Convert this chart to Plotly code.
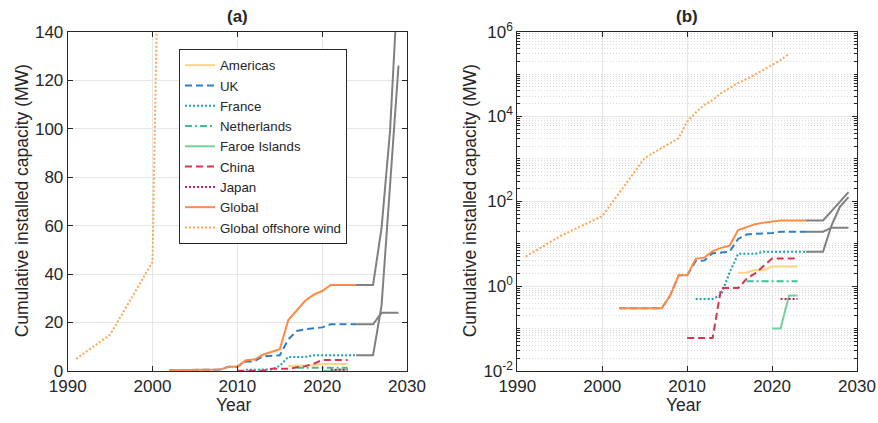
import plotly.graph_objects as go

# ---------------- data ----------------
americas_years = [2016, 2017, 2018, 2019, 2020, 2021, 2022, 2023]
americas_vals = [2.07, 2.1, 2.4, 2.4, 2.9, 2.9, 2.9, 2.9]

uk_years = [2002, 2003, 2004, 2005, 2006, 2007, 2008, 2009, 2010, 2011, 2012, 2013,
            2014, 2015, 2016, 2017, 2018, 2019, 2020, 2021, 2022, 2023, 2024]
uk_vals = [0.3, 0.3, 0.3, 0.3, 0.3, 0.3, 0.6, 1.8, 1.8, 3.9, 4.0, 6.0,
           6.2, 6.5, 13, 16.5, 17.2, 17.5, 18, 19.3, 19.3, 19.3, 19.3]

france_years = [2011, 2012, 2013, 2014, 2015, 2016, 2017, 2018, 2019, 2020, 2021, 2022, 2023, 2024]
france_vals = [0.5, 0.5, 0.5, 0.63, 2.1, 5.8, 5.8, 5.8, 6.5, 6.5, 6.5, 6.5, 6.5, 6.5]

netherlands_years = [2017, 2018, 2019, 2020, 2021, 2022, 2023]
netherlands_vals = [1.3, 1.3, 1.3, 1.3, 1.3, 1.3, 1.3]

faroe_years = [2020, 2021, 2022, 2023]
faroe_vals = [0.1, 0.1, 0.6, 0.6]

china_years = [2010, 2011, 2012, 2013, 2014, 2015, 2016, 2017, 2018, 2019, 2020, 2021, 2022, 2023]
china_vals = [0.06, 0.06, 0.06, 0.06, 0.9, 0.9, 0.9, 1.5, 2.0, 3.0, 4.5, 4.5, 4.5, 4.5]

japan_years = [2021, 2022, 2023]
japan_vals = [0.5, 0.5, 0.5]

global_years = [2002, 2003, 2004, 2005, 2006, 2007, 2008, 2009, 2010, 2011, 2012, 2013,
                2014, 2015, 2016, 2017, 2018, 2019, 2020, 2021, 2022, 2023, 2024]
global_vals = [0.3, 0.3, 0.3, 0.3, 0.3, 0.3, 0.6, 1.8, 1.8, 4.4, 4.7, 6.7,
               8.0, 9.0, 21, 25, 29, 31.5, 33, 35.5, 35.5, 35.5, 35.5]

offshore_years = [1991, 1995, 2000, 2005, 2009, 2010, 2011, 2012, 2013, 2014, 2015,
                  2016, 2017, 2018, 2019, 2020, 2021, 2022]
offshore_vals = [5, 15, 45, 1050, 3100, 7600, 12400, 18800, 24500, 35500, 47000,
                 62000, 76000, 96000, 126000, 164000, 215000, 300000]

proj_years = [2024, 2025, 2026, 2027, 2028, 2029]
proj_global_vals = [35.5, 35.5, 35.5, 59, 99, 165]
proj_uk_vals = [19.3, 19.3, 19.3, 24, 24, 24]
proj_france_vals = [6.5, 6.5, 6.5, 27, 75, 126]

x_ticks = [1990, 2000, 2010, 2020, 2030]
y_ticks_lin = [0, 20, 40, 60, 80, 100, 120, 140]
y_ticks_log = [1e-2, 1, 1e2, 1e4, 1e6]
y_ticktext_log = ["10<sup>-2</sup>", "10<sup>0</sup>", "10<sup>2</sup>", "10<sup>4</sup>", "10<sup>6</sup>"]

DASH = "7px,4px"
DOT = "2px,2px"
DASHDOT = "7px,3px,2px,3px"
series = [
    ("Americas", americas_years, americas_vals, "#FFD580", "solid"),
    ("UK", uk_years, uk_vals, "#2F7FC1", DASH),
    ("France", france_years, france_vals, "#1BA3B5", DOT),
    ("Netherlands", netherlands_years, netherlands_vals, "#3DBE98", DASHDOT),
    ("Faroe Islands", faroe_years, faroe_vals, "#72D09B", "solid"),
    ("China", china_years, china_vals, "#D8364C", DASH),
    ("Japan", japan_years, japan_vals, "#C21E5C", DOT),
    ("Global", global_years, global_vals, "#FF8A45", "solid"),
    ("Global offshore wind", offshore_years, offshore_vals, "#FFA54F", DOT),
]
projections = [
    (proj_years, proj_global_vals),
    (proj_years, proj_uk_vals),
    (proj_years, proj_france_vals),
]

# ---------------- figure ----------------
FONT = "Liberation Sans, Arial, sans-serif"
TXT = "#262626"
fig = go.Figure()

for (ax_x, ax_y, show) in [("x", "y", True), ("x2", "y2", False)]:
    for yrs, vals in projections:
        fig.add_trace(go.Scatter(x=yrs, y=vals, mode="lines", xaxis=ax_x, yaxis=ax_y,
                                 line=dict(color="#808080", width=2), showlegend=False,
                                 hoverinfo="skip"))
    for name, yrs, vals, col, dash in series:
        fig.add_trace(go.Scatter(x=yrs, y=vals, mode="lines", name=name, xaxis=ax_x, yaxis=ax_y,
                                 line=dict(color=col, width=2, dash=dash),
                                 showlegend=show, legendgroup=name))

W, H = 878, 423
xl1, xr1 = 67.7, 407.0
xl2, xr2 = 517.3, 857.0
ytop, ybot = 31.7, 371.0
ydom = [(H - ybot) / H, (H - ytop) / H]

common_ax = dict(showline=True, linecolor=TXT, linewidth=1, mirror="allticks",
                 ticks="inside", ticklen=5, tickcolor=TXT,
                 tickfont=dict(family=FONT, size=17, color=TXT),
                 zeroline=False, automargin=False,
                 showgrid=True, gridcolor="#E6E6E6", gridwidth=1)

title_font = dict(family=FONT, size=17.5, color=TXT)

ycenter = 1 - (ytop + ybot) / 2 / H
annotations = []
for xl, xr, ytx, lab in [(xl1, xr1, 22, "(a)"), (xl2, xr2, 470, "(b)")]:
    annotations.append(dict(text="<b>%s</b>" % lab, x=(xl + xr) / 2 / W, y=1 - 17 / H,
                            xref="paper", yref="paper", xanchor="center", yanchor="middle",
                            showarrow=False, font=dict(family=FONT, size=17, color=TXT)))
    annotations.append(dict(text="Year", x=(xl + xr) / 2 / W - 3 / W, y=1 - 405 / H,
                            xref="paper", yref="paper", xanchor="center", yanchor="middle",
                            showarrow=False, font=title_font))
    annotations.append(dict(text="Cumulative installed capacity (MW)", x=ytx / W, y=ycenter,
                            xref="paper", yref="paper", xanchor="center", yanchor="middle",
                            textangle=-90, showarrow=False, font=title_font))

fig.update_layout(
    width=W, height=H, margin=dict(l=0, r=0, t=0, b=0),
    paper_bgcolor="white", plot_bgcolor="white",
    font=dict(family=FONT, color=TXT),
    xaxis=dict(domain=[xl1 / W, xr1 / W], range=[1990, 2030], tickvals=x_ticks, anchor="y", **common_ax),
    yaxis=dict(domain=ydom, range=[0, 140], tickvals=y_ticks_lin, anchor="x", **common_ax),
    xaxis2=dict(domain=[xl2 / W, xr2 / W], range=[1990, 2030], tickvals=x_ticks, anchor="y2", **common_ax),
    yaxis2=dict(domain=ydom, type="log", range=[-2, 6],
                tickvals=y_ticks_log, ticktext=y_ticktext_log, anchor="x2",
                minor=dict(tickmode="linear", dtick="D1", showgrid=True, gridcolor="#D9D9D9",
                           griddash="1px,2px", gridwidth=1, ticks="inside", ticklen=3, tickcolor=TXT),
                **common_ax),
    legend=dict(x=179 / W, y=(H - 49) / H, xanchor="left", yanchor="top",
                bgcolor="white", bordercolor=TXT, borderwidth=1,
                font=dict(family=FONT, size=13.3, color=TXT), tracegroupgap=0),
    annotations=annotations,
)

fig.write_html("out.html")
